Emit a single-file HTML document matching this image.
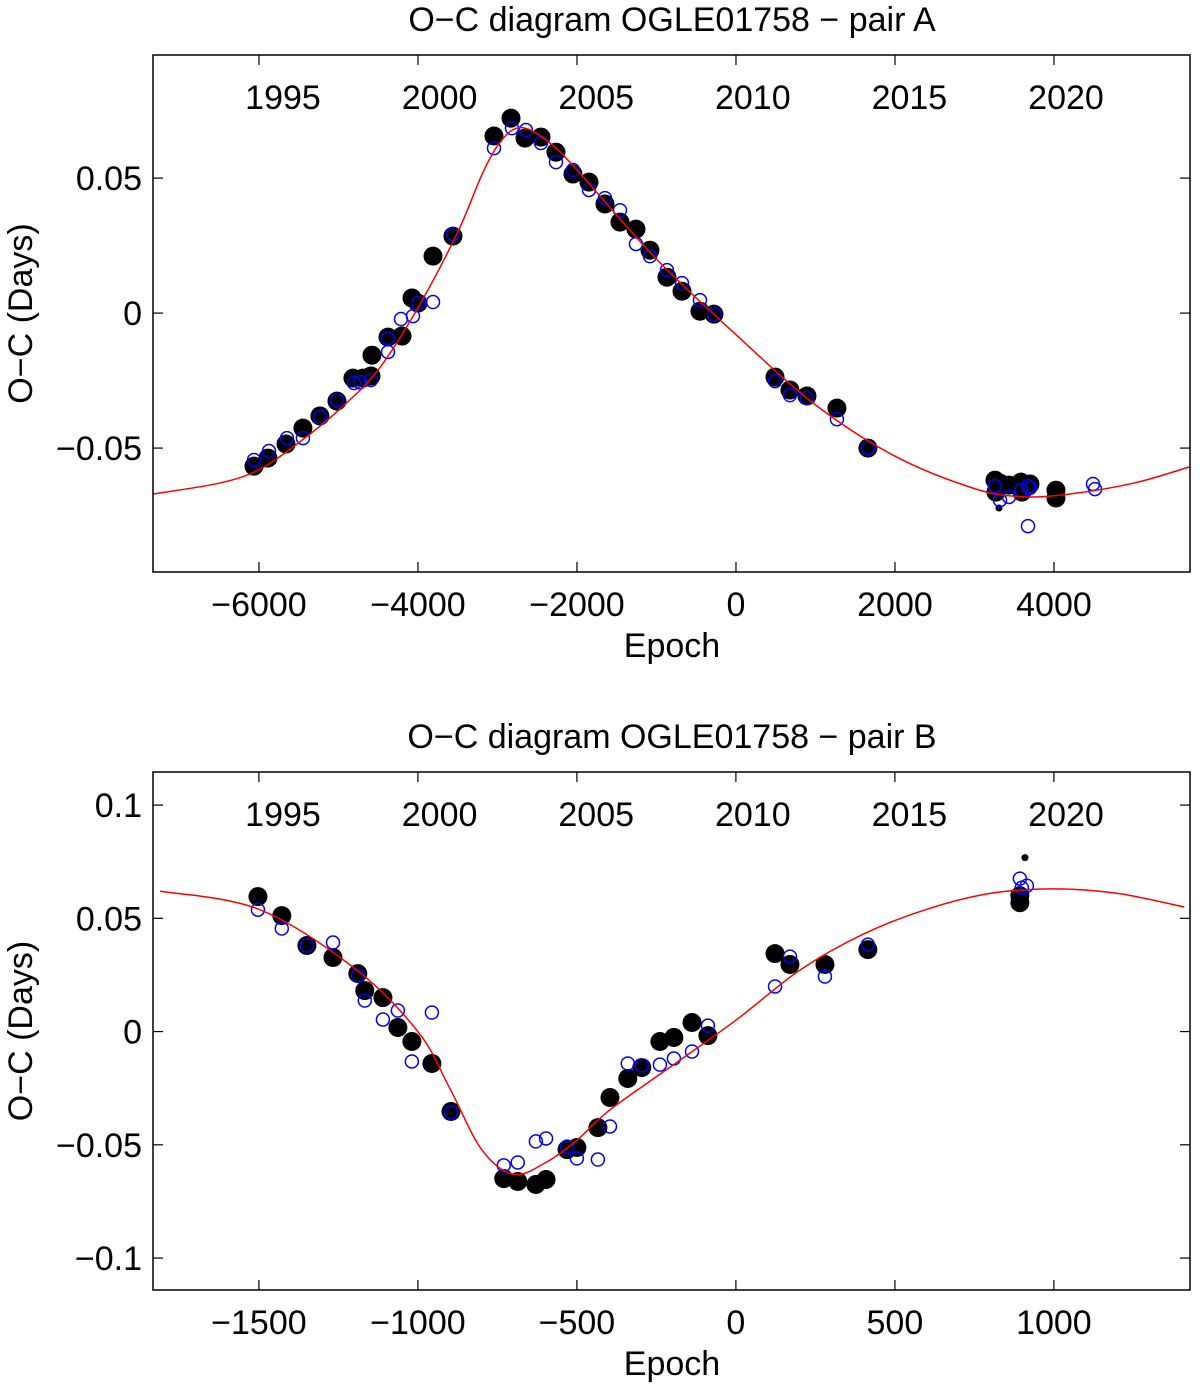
<!DOCTYPE html>
<html><head><meta charset="utf-8">
<style>
html,body{margin:0;padding:0;background:#fff;}
svg{display:block;font-family:"Liberation Sans",Arial,sans-serif;}
</style></head>
<body>
<svg id="chart" width="1200" height="1385" viewBox="0 0 1200 1385"></svg>
<script>
// ---------- Panel A data ----------
const aXTicks = [-6000,-4000,-2000,0,2000,4000];
const aYTicks = [-0.05,0,0.05];
const aYTickLabels = ["\u22120.05","0","0.05"];
const aXTickLabels = ["\u22126000","\u22124000","\u22122000","0","2000","4000"];
const years = ["1995","2000","2005","2010","2015","2020"];
const aBlackEpoch = [-6063,-5887,-5660,-5447,-5233,-5019,-4818,-4692,-4591,-4579,-4377,-4201,-4075,-4000,-3811,-3560,-3044,-2830,-2654,-2453,-2264,-2050,-1849,-1648,-1459,-1258,-1082,-868,-679,-453,-277,491,679,893,1270,1660,3258,3321,3270,3434,3585,3597,3698,4025,4025];
const aBlackOC = [-0.0567,-0.0537,-0.0485,-0.0426,-0.0381,-0.0326,-0.0241,-0.0241,-0.0233,-0.0156,-0.0089,-0.0085,0.0056,0.0037,0.0211,0.0285,0.0656,0.0722,0.0648,0.0652,0.0596,0.0515,0.0485,0.0404,0.0337,0.0311,0.0233,0.0133,0.0081,0.0007,-0.0004,-0.0237,-0.0285,-0.0307,-0.0352,-0.05,-0.0619,-0.063,-0.0663,-0.0637,-0.0626,-0.0663,-0.0633,-0.0656,-0.0685];
const aSmallEpoch = [3308];
const aSmallOC = [-0.0722];
const aBlueEpoch = [-6063,-5874,-5648,-5447,-5233,-5019,-4805,-4730,-4591,-4377,-4377,-4214,-4063,-4000,-3811,-3560,-3044,-2818,-2642,-2453,-2264,-2050,-1849,-1648,-1459,-1258,-1082,-868,-679,-453,-277,491,679,893,1270,1660,3258,3321,3434,3585,3673,3698,3673,4491,4516];
const aBlueOC = [-0.0544,-0.0511,-0.0463,-0.0463,-0.0385,-0.0322,-0.0259,-0.0256,-0.0248,-0.0144,-0.0093,-0.0022,-0.0011,0.0037,0.0041,0.0293,0.0611,0.0685,0.0678,0.063,0.0559,0.053,0.0456,0.0426,0.0381,0.0256,0.0211,0.0159,0.0111,0.0048,-0.0004,-0.0252,-0.0304,-0.0315,-0.0393,-0.05,-0.0641,-0.0693,-0.0681,-0.0656,-0.0641,-0.0648,-0.0789,-0.0633,-0.0652];
const aFitEpoch = [-7333,-6500,-6000,-5500,-5000,-4500,-4000,-3500,-3200,-3000,-2800,-2600,-2300,-2000,-1000,0,1000,2000,3000,3600,4200,5000,5700];
const aFitOC = [-0.067,-0.063,-0.058,-0.048,-0.036,-0.021,0.002,0.030,0.051,0.062,0.068,0.068,0.062,0.053,0.020,-0.008,-0.034,-0.053,-0.065,-0.068,-0.067,-0.063,-0.057];

// ---------- Panel B data ----------
const bXTicks = [-1500,-1000,-500,0,500,1000];
const bXTickLabels = ["\u22121500","\u22121000","\u2212500","0","500","1000"];
const bYTicks = [-0.1,-0.05,0,0.05,0.1];
const bYTickLabels = ["\u22120.1","\u22120.05","0","0.05","0.1"];
const bBlackEpoch = [-1503,-1428,-1349,-1267,-1189,-1167,-1110,-1063,-1019,-956,-896,-730,-686,-629,-597,-531,-500,-434,-396,-340,-296,-239,-195,-138,-88,123,170,280,415,893,893];
const bBlackOC = [0.0596,0.0512,0.038,0.0327,0.0256,0.0181,0.015,0.0018,-0.0044,-0.0141,-0.0353,-0.0649,-0.0662,-0.0675,-0.0653,-0.0521,-0.0512,-0.0424,-0.0291,-0.0207,-0.0159,-0.0044,-0.0026,0.004,-0.0018,0.0344,0.0296,0.0296,0.0362,0.06,0.0569];
const bSmallEpoch = [909];
const bSmallOC = [0.0768];
const bBlueEpoch = [-1503,-1428,-1349,-1267,-1189,-1167,-1110,-1063,-1019,-956,-896,-730,-686,-629,-597,-531,-500,-434,-396,-340,-296,-239,-195,-138,-88,123,170,280,415,893,899,915];
const bBlueOC = [0.0538,0.0455,0.038,0.0393,0.0247,0.0137,0.0053,0.0093,-0.0132,0.0084,-0.0357,-0.0591,-0.0578,-0.0485,-0.0472,-0.0508,-0.056,-0.0565,-0.0419,-0.0141,-0.015,-0.0146,-0.0119,-0.0088,0.0026,0.0199,0.0331,0.0243,0.0384,0.0675,0.0635,0.0644];
const bFitEpoch = [-1811,-1500,-1200,-1000,-900,-800,-700,-600,-500,-400,-200,0,200,400,600,800,1000,1200,1410];
const bFitOC = [0.062,0.054,0.028,0.0,-0.025,-0.052,-0.063,-0.058,-0.048,-0.035,-0.015,0.005,0.027,0.043,0.054,0.061,0.063,0.061,0.055];

const NS="http://www.w3.org/2000/svg";
const svg=document.getElementById('chart');
function mk(tag,attrs,parent){const e=document.createElementNS(NS,tag);for(const k in attrs)e.setAttribute(k,attrs[k]);(parent||svg).appendChild(e);return e;}

function catmull(pts){
  let d="M"+pts[0][0].toFixed(1)+","+pts[0][1].toFixed(1);
  for(let i=0;i<pts.length-1;i++){
    const p0=pts[Math.max(0,i-1)],p1=pts[i],p2=pts[i+1],p3=pts[Math.min(pts.length-1,i+2)];
    const c1=[p1[0]+(p2[0]-p0[0])/6,p1[1]+(p2[1]-p0[1])/6];
    const c2=[p2[0]-(p3[0]-p1[0])/6,p2[1]-(p3[1]-p1[1])/6];
    d+="C"+c1[0].toFixed(1)+","+c1[1].toFixed(1)+" "+c2[0].toFixed(1)+","+c2[1].toFixed(1)+" "+p2[0].toFixed(1)+","+p2[1].toFixed(1);
  }
  return d;
}

const FS=34;
function panel(cfg){
  const g=mk('g',{});
  
  
  const L=153,R=1190,T=cfg.top,B=cfg.bottom;
  const sx=v=>L+(v-cfg.xmin)/(cfg.xmax-cfg.xmin)*(R-L);
  const sy=v=>B-(v-cfg.ymin)/(cfg.ymax-cfg.ymin)*(B-T);
  const clipId='clip'+cfg.name;
  const defs=mk('defs',{},g);
  const cp=mk('clipPath',{id:clipId},defs);
  mk('rect',{x:L,y:T,width:R-L,height:B-T},cp);
  const t=mk('text',{x:672,y:T-24,'text-anchor':'middle','font-size':FS},g);
  t.textContent=cfg.title;
  
  
  cfg.xt.forEach((v,i)=>{
    const x=sx(v);
    mk('line',{x1:x,y1:B,x2:x,y2:B-10,stroke:'#000','stroke-width':1.2},g);
    mk('line',{x1:x,y1:T,x2:x,y2:T+10,stroke:'#000','stroke-width':1.2},g);
    const tl=mk('text',{x:x,y:B+44,'text-anchor':'middle','font-size':FS},g);
    tl.textContent=cfg.xtl[i];
    
    
  });
  cfg.yt.forEach((v,i)=>{
    const y=sy(v);
    mk('line',{x1:L,y1:y,x2:L+10,y2:y,stroke:'#000','stroke-width':1.2},g);
    mk('line',{x1:R,y1:y,x2:R-10,y2:y,stroke:'#000','stroke-width':1.2},g);
    const tl=mk('text',{x:L-11,y:y+12,'text-anchor':'end','font-size':FS},g);
    tl.textContent=cfg.ytl[i];
    
    
  });
  years.forEach((yr,i)=>{
    const yl=mk('text',{x:283+i*156.6,y:T+54,'text-anchor':'middle','font-size':FS},g);
    yl.textContent=yr;
    
    
  });
  const xl=mk('text',{x:672,y:B+85,'text-anchor':'middle','font-size':FS},g);
  xl.textContent='Epoch';
  
  
  const yc=(T+B)/2;
  const ylb=mk('text',{x:32,y:yc,'text-anchor':'middle','font-size':FS,transform:`rotate(-90 32 ${yc})`},g);
  ylb.textContent='O\u2212C (Days)';
  
  
  const plot=mk('g',{'clip-path':`url(#${clipId})`},g);
  cfg.be.forEach((e,i)=>{
    const c=mk('circle',{cx:sx(e),cy:sy(cfg.bo[i]),r:9.5,fill:'#000'},plot);
    
    
  });
  cfg.se.forEach((e,i)=>{
    const c=mk('circle',{cx:sx(e),cy:sy(cfg.so[i]),r:3.5,fill:'#000'},plot);
    
    
  });
  cfg.ue.forEach((e,i)=>{
    const c=mk('circle',{cx:sx(e),cy:sy(cfg.uo[i]),r:6.5,fill:'none',stroke:'#0000ff','stroke-width':1.5},plot);
    
    
  });
  const pts=cfg.fe.map((e,i)=>[sx(e),sy(cfg.fo[i])]);
  const p=mk('path',{d:catmull(pts),fill:'none',stroke:'#ff0000','stroke-width':1.5},plot);
  
  
  const fr=mk('rect',{x:L,y:T,width:R-L,height:B-T,fill:'none',stroke:'#000','stroke-width':1.5},g);
  
  
}

panel({name:'panel-pair-a',title:'O\u2212C diagram OGLE01758 \u2212 pair A',top:55,bottom:572,
  xmin:-7333,xmax:5711,ymin:-0.0959,ymax:0.0956,
  xt:aXTicks,xtl:aXTickLabels,yt:aYTicks,ytl:aYTickLabels,
  be:aBlackEpoch,bo:aBlackOC,se:aSmallEpoch,so:aSmallOC,ue:aBlueEpoch,uo:aBlueOC,fe:aFitEpoch,fo:aFitOC});
panel({name:'panel-pair-b',title:'O\u2212C diagram OGLE01758 \u2212 pair B',top:772,bottom:1290,
  xmin:-1833,xmax:1428,ymin:-0.1141,ymax:0.1146,
  xt:bXTicks,xtl:bXTickLabels,yt:bYTicks,ytl:bYTickLabels,
  be:bBlackEpoch,bo:bBlackOC,se:bSmallEpoch,so:bSmallOC,ue:bBlueEpoch,uo:bBlueOC,fe:bFitEpoch,fo:bFitOC});
</script>
</body></html>
